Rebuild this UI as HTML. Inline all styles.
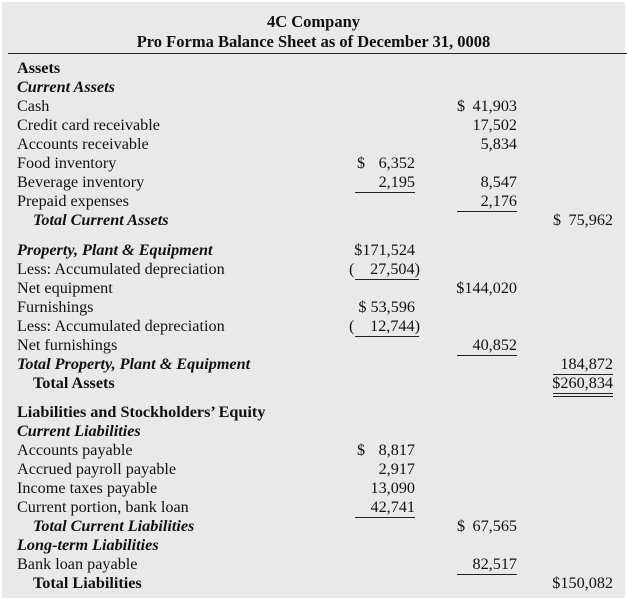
<!DOCTYPE html>
<html><head><meta charset="utf-8"><style>
html,body{margin:0;padding:0;background:#fff;width:627px;height:600px;overflow:hidden}
#bg{position:absolute;left:2px;top:2px;width:623px;height:596px;background:#e9e9e9}
.t{position:absolute;font-family:"Liberation Serif",serif;font-size:16.2px;line-height:19px;color:#111;white-space:pre}
.b{font-weight:bold}.i{font-style:italic;font-weight:bold}
.n1{right:212px}.n2{right:110px}.n3{right:14px}
.u{position:absolute;height:1px;background:#222}
.h{font-size:16.5px}
</style></head><body>
<div id="bg"></div>
<div class="t b h" style="left:0;width:627px;text-align:center;top:12px">4C Company</div>
<div class="t b h" style="left:0;width:627px;text-align:center;top:32px">Pro Forma Balance Sheet as of December 31, 0008</div>
<div class="u" style="left:8px;top:53px;width:619px"></div>

<div class="t b" style="left:17px;top:59px">Assets</div>
<div class="t i" style="left:17px;top:78px">Current Assets</div>
<div class="t" style="left:17px;top:97px">Cash</div>
<div class="t" style="left:457px;top:97px">$</div><div class="t n2" style="top:97px">41,903</div>
<div class="t" style="left:17px;top:116px">Credit card receivable</div>
<div class="t n2" style="top:116px">17,502</div>
<div class="t" style="left:17px;top:135px">Accounts receivable</div>
<div class="t n2" style="top:135px">5,834</div>
<div class="t" style="left:17px;top:154px">Food inventory</div>
<div class="t" style="left:357px;top:154px">$</div><div class="t n1" style="top:154px">6,352</div>
<div class="t" style="left:17px;top:173px">Beverage inventory</div>
<div class="t n1" style="top:173px">2,195</div><div class="u" style="left:355px;top:192px;width:60px"></div>
<div class="t n2" style="top:173px">8,547</div>
<div class="t" style="left:17px;top:192px">Prepaid expenses</div>
<div class="t n2" style="top:192px">2,176</div><div class="u" style="left:457px;top:211px;width:60px"></div>
<div class="t i" style="left:33px;top:211px">Total Current Assets</div>
<div class="t" style="left:553px;top:211px">$</div><div class="t n3" style="top:211px">75,962</div>

<div class="t i" style="left:17px;top:241px">Property, Plant &amp; Equipment</div>
<div class="t n1" style="top:241px">$171,524</div>
<div class="t" style="left:17px;top:260px">Less: Accumulated depreciation</div>
<div class="t" style="left:349px;top:260px">(</div><div class="t" style="right:207px;top:260px">27,504)</div><div class="u" style="left:355px;top:279px;width:64px"></div>
<div class="t" style="left:17px;top:279px">Net equipment</div>
<div class="t n2" style="top:279px">$144,020</div>
<div class="t" style="left:17px;top:298px">Furnishings</div>
<div class="t n1" style="top:298px">$ 53,596</div>
<div class="t" style="left:17px;top:317px">Less: Accumulated depreciation</div>
<div class="t" style="left:349px;top:317px">(</div><div class="t" style="right:207px;top:317px">12,744)</div><div class="u" style="left:355px;top:336px;width:64px"></div>
<div class="t" style="left:17px;top:336px">Net furnishings</div>
<div class="t n2" style="top:336px">40,852</div><div class="u" style="left:457px;top:355px;width:60px"></div>
<div class="t i" style="left:17px;top:355px">Total Property, Plant &amp; Equipment</div>
<div class="t n3" style="top:355px">184,872</div><div class="u" style="left:553px;top:374px;width:60px"></div>
<div class="t b" style="left:33px;top:374px">Total Assets</div>
<div class="t n3" style="top:374px">$260,834</div><div class="u" style="left:553px;top:393px;width:60px"></div><div class="u" style="left:553px;top:396px;width:60px"></div>

<div class="t b" style="left:17px;top:403px">Liabilities and Stockholders’ Equity</div>
<div class="t i" style="left:17px;top:422px">Current Liabilities</div>
<div class="t" style="left:17px;top:441px">Accounts payable</div>
<div class="t" style="left:357px;top:441px">$</div><div class="t n1" style="top:441px">8,817</div>
<div class="t" style="left:17px;top:460px">Accrued payroll payable</div>
<div class="t n1" style="top:460px">2,917</div>
<div class="t" style="left:17px;top:479px">Income taxes payable</div>
<div class="t n1" style="top:479px">13,090</div>
<div class="t" style="left:17px;top:498px">Current portion, bank loan</div>
<div class="t n1" style="top:498px">42,741</div><div class="u" style="left:355px;top:517px;width:60px"></div>
<div class="t i" style="left:33px;top:517px">Total Current Liabilities</div>
<div class="t" style="left:457px;top:517px">$</div><div class="t n2" style="top:517px">67,565</div>
<div class="t i" style="left:17px;top:536px">Long-term Liabilities</div>
<div class="t" style="left:17px;top:555px">Bank loan payable</div>
<div class="t n2" style="top:555px">82,517</div><div class="u" style="left:457px;top:574px;width:60px"></div>
<div class="t b" style="left:33px;top:574px">Total Liabilities</div>
<div class="t n3" style="top:574px">$150,082</div>
</body></html>
